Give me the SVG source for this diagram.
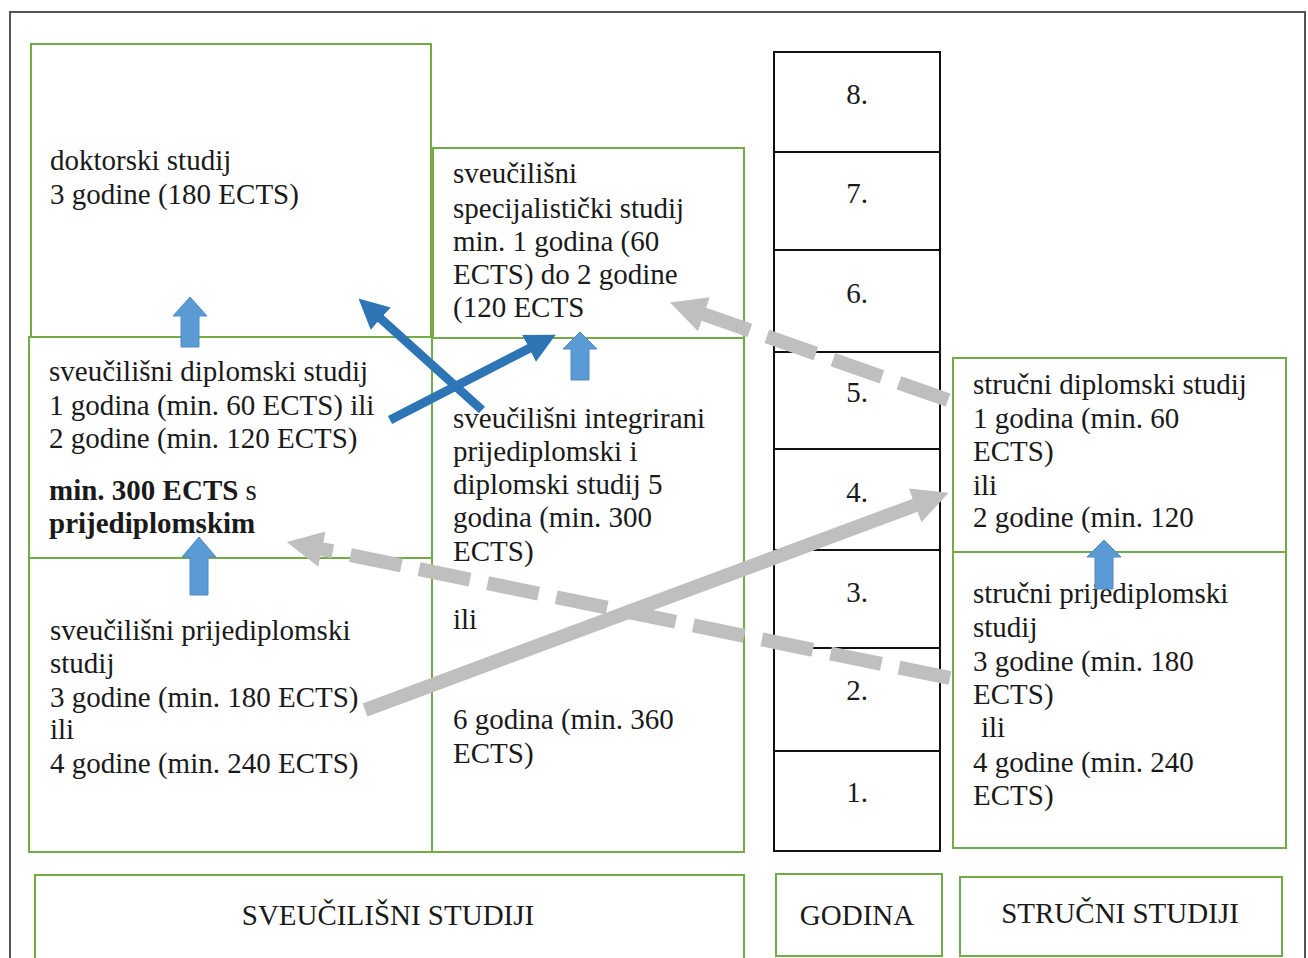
<svg xmlns="http://www.w3.org/2000/svg" width="1308" height="958" viewBox="0 0 1308 958">
  <style>
    .box { fill: none; stroke: #70AD47; stroke-width: 2; }
    .yr { fill: #ffffff; stroke: #111111; stroke-width: 2; }
    .t { font-family: "Liberation Serif", "Times New Roman", serif; font-size: 29px; fill: #1a1a1a; }
    .c { text-anchor: middle; }
    .b { font-weight: bold; }
    .blk { fill: #5B9BD5; stroke: #4F8CC6; stroke-width: 1; }
    .blue { fill: none; stroke: #2E75B6; stroke-width: 9; }
    .gray { fill: none; stroke: #BFBFBF; stroke-width: 14; }
    .dash { stroke-dasharray: 52 18; }
  </style>
  <defs>
    <marker id="grayHead" markerUnits="userSpaceOnUse" viewBox="0 -20 40 40" refX="1" refY="0" markerWidth="40" markerHeight="40" orient="auto">
      <path d="M0,-18 L36,0 L0,18 Z" fill="#BFBFBF"/>
    </marker>
    <marker id="blueHead" markerUnits="userSpaceOnUse" viewBox="0 -16 32 32" refX="1" refY="0" markerWidth="32" markerHeight="32" orient="auto">
      <path d="M0,-15 L30,0 L0,15 Z" fill="#2E75B6"/>
    </marker>
  </defs>

  <rect x="0" y="0" width="1308" height="958" fill="#ffffff"/>
  <g id="frame">
    <path d="M10,958 L10,12 L1305,12 L1305,958" fill="none" stroke="#555555" stroke-width="2"/>
  </g>

  <g id="doktorski">
    <rect class="box" x="31" y="44" width="400" height="293"/>
    <text class="t" x="50" y="170">doktorski studij</text>
    <text class="t" x="50" y="204">3 godine (180 ECTS)</text>
  </g>

  <g id="sveucilisni-diplomski">
    <rect class="box" x="29" y="337" width="403" height="221"/>
    <text class="t" x="49" y="381">sveučilišni diplomski studij</text>
    <text class="t" x="49" y="415">1 godina (min. 60 ECTS) ili</text>
    <text class="t" x="49" y="448" fill="#333">2 godine (min. 120 ECTS)</text>
    <text class="t" x="49" y="500"><tspan class="b">min. 300 ECTS</tspan> s</text>
    <text class="t b" x="49" y="533">prijediplomskim</text>
  </g>

  <g id="sveucilisni-prijediplomski">
    <rect class="box" x="29" y="558" width="403" height="294"/>
    <text class="t" x="50" y="640">sveučilišni prijediplomski</text>
    <text class="t" x="50" y="673">studij</text>
    <text class="t" x="50" y="707">3 godine (min. 180 ECTS)</text>
    <text class="t" x="50" y="739">ili</text>
    <text class="t" x="50" y="773">4 godine (min. 240 ECTS)</text>
  </g>

  <g id="specijalisticki">
    <rect class="box" x="433" y="148" width="311" height="190"/>
    <text class="t" x="453" y="183">sveučilišni</text>
    <text class="t" x="453" y="218">specijalistički studij</text>
    <text class="t" x="453" y="251">min. 1 godina (60</text>
    <text class="t" x="453" y="284">ECTS) do 2 godine</text>
    <text class="t" x="453" y="317">(120 ECTS</text>
  </g>

  <g id="integrirani">
    <rect class="box" x="432" y="338" width="312" height="514"/>
    <text class="t" x="453" y="428">sveučilišni integrirani</text>
    <text class="t" x="453" y="461">prijediplomski i</text>
    <text class="t" x="453" y="494">diplomski studij 5</text>
    <text class="t" x="453" y="527">godina (min. 300</text>
    <text class="t" x="453" y="561">ECTS)</text>
    <text class="t" x="453" y="629">ili</text>
    <text class="t" x="453" y="729">6 godina (min. 360</text>
    <text class="t" x="453" y="763">ECTS)</text>
  </g>

  <g id="godine">
    <rect class="yr" x="774" y="52" width="166" height="799"/>
    <path d="M774,152 H940 M774,250 H940 M774,352 H940 M774,449 H940 M774,550 H940 M774,648 H940 M774,751 H940" stroke="#111111" stroke-width="2"/>
    <text class="t c" x="857" y="104">8.</text>
    <text class="t c" x="857" y="203" fill="#777777">7.</text>
    <text class="t c" x="857" y="303">6.</text>
    <text class="t c" x="857" y="402">5.</text>
    <text class="t c" x="857" y="502">4.</text>
    <text class="t c" x="857" y="602">3.</text>
    <text class="t c" x="857" y="700">2.</text>
    <text class="t c" x="857" y="802">1.</text>
  </g>

  <g id="strucni-diplomski">
    <rect class="box" x="953" y="358" width="333" height="194"/>
    <text class="t" x="973" y="394">stručni diplomski studij</text>
    <text class="t" x="973" y="428">1 godina (min. 60</text>
    <text class="t" x="973" y="461">ECTS)</text>
    <text class="t" x="973" y="495">ili</text>
    <text class="t" x="973" y="527">2 godine (min. 120</text>
  </g>

  <g id="strucni-prijediplomski">
    <rect class="box" x="953" y="552" width="333" height="296"/>
    <text class="t" x="973" y="603">stručni prijediplomski</text>
    <text class="t" x="973" y="637">studij</text>
    <text class="t" x="973" y="671">3 godine (min. 180</text>
    <text class="t" x="973" y="704">ECTS)</text>
    <text class="t" x="981" y="737">ili</text>
    <text class="t" x="973" y="772">4 godine (min. 240</text>
    <text class="t" x="973" y="805">ECTS)</text>
  </g>

  <g id="label-sveucilisni">
    <rect class="box" x="35" y="875" width="709" height="90"/>
    <text class="t c" x="388" y="925">SVEUČILIŠNI STUDIJI</text>
  </g>
  <g id="label-godina">
    <rect class="box" x="776" y="874" width="166" height="82"/>
    <text class="t c" x="857" y="925">GODINA</text>
  </g>
  <g id="label-strucni">
    <rect class="box" x="960" y="877" width="322" height="79"/>
    <text class="t c" x="1120" y="923">STRUČNI STUDIJI</text>
  </g>

  <g id="connectors">
    <polygon class="blk" points="190,297 207,316 199,316 199,347 181,347 181,316 173,316"/>
    <polygon class="blk" points="199,537 216,557 208,557 208,595 190,595 190,557 182,557"/>
    <polygon class="blk" points="580,332 597,349 589,349 589,380 571,380 571,349 563,349"/>
    <polygon class="blk" points="1104,540 1121,557 1113,557 1113,589 1095,589 1095,557 1087,557"/>

    <path class="blue" d="M482,410 L380,318" marker-end="url(#blueHead)"/>
    <path class="blue" d="M390,420 L530,348" marker-end="url(#blueHead)"/>

    <path class="gray dash" d="M948,400 L703,314" marker-end="url(#grayHead)"/>
    <path class="gray dash" d="M950,678 L321,549" marker-end="url(#grayHead)"/>
    <path class="gray" d="M365,710 L916,505" marker-end="url(#grayHead)"/>
  </g>
</svg>
